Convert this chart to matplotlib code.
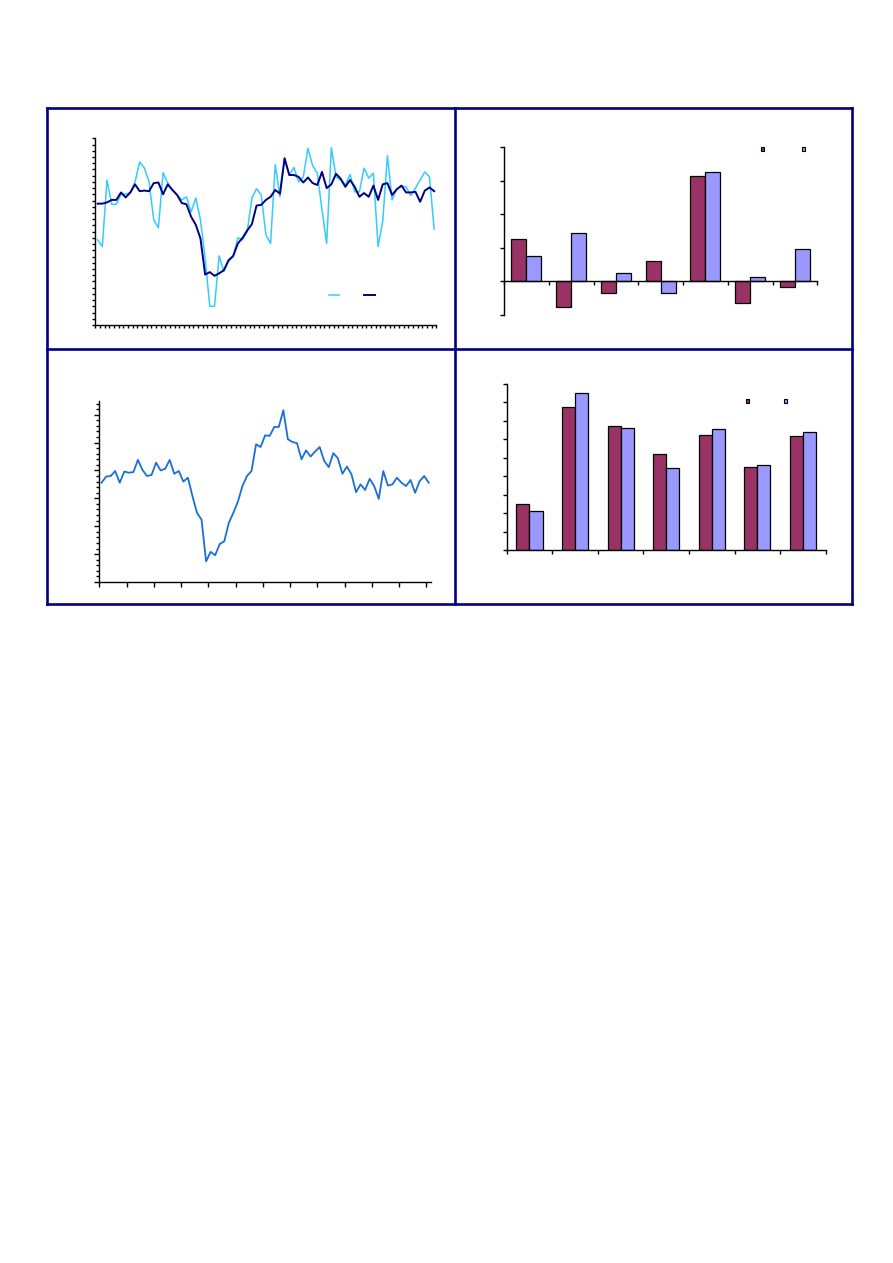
import numpy as np
import matplotlib
matplotlib.use('Agg')
import matplotlib.pyplot as plt
from matplotlib.lines import Line2D
from matplotlib.patches import Patch

# 左上：两条月度曲线（浅蓝、深蓝）
light_line = [13.7, 12.6, 23.3, 19.4, 19.4, 21.0, 21.0, 21.3, 23.0, 26.2,
              25.2, 23.0, 16.9, 15.6, 24.5, 22.8, 21.7, 20.9, 20.1, 20.6,
              18.2, 20.4, 16.9, 10.7, 3.0, 3.0, 11.1, 8.6, 10.2, 11.0,
              14.0, 13.7, 15.0, 20.4, 21.9, 20.9, 14.5, 13.1, 25.8, 20.6,
              26.7, 24.1, 25.3, 23.0, 23.8, 28.4, 25.6, 24.4, 18.5, 13.1,
              28.5, 23.8, 23.3, 22.5, 24.2, 21.4, 21.4, 25.2, 23.6, 24.4,
              12.6, 16.7, 27.2, 20.1, 21.9, 22.3, 22.2, 20.8, 22.0, 23.3,
              24.6, 23.8, 15.4]
dark_line = [19.5, 19.5, 19.7, 20.1, 20.1, 21.3, 20.5, 21.3, 22.6, 21.5,
             21.6, 21.5, 22.8, 22.9, 21.0, 22.6, 21.7, 20.9, 19.6, 19.4,
             17.4, 16.1, 13.9, 8.1, 8.5, 7.9, 8.3, 8.8, 10.4, 11.1,
             13.1, 14.0, 15.2, 16.2, 19.2, 19.3, 20.1, 20.6, 21.7, 21.1,
             26.8, 24.1, 24.1, 23.8, 22.9, 23.7, 22.8, 22.5, 24.6, 22.0,
             22.6, 24.3, 23.5, 22.2, 23.3, 22.2, 20.6, 21.2, 20.6, 22.4,
             20.1, 22.6, 22.8, 20.9, 21.8, 22.4, 21.3, 21.3, 21.4, 19.8,
             21.6, 22.1, 21.5]

# 左下：单条曲线
single_line = [17.8, 18.9, 19.0, 19.9, 17.8, 19.8, 19.6, 19.7, 21.9, 20.1,
               19.0, 19.2, 21.4, 20.0, 20.3, 21.9, 19.4, 19.9, 18.0, 18.7,
               15.4, 12.4, 11.2, 3.7, 5.4, 4.8, 6.8, 7.3, 10.6, 12.4,
               14.4, 17.2, 19.0, 19.9, 24.7, 24.2, 26.3, 26.2, 27.8, 27.8,
               30.8, 25.6, 25.1, 24.9, 22.0, 23.6, 22.5, 23.4, 24.2, 21.7,
               20.6, 23.1, 22.2, 19.4, 20.7, 19.3, 16.1, 17.5, 16.5, 18.5,
               17.2, 14.9, 19.9, 17.3, 17.5, 18.7, 17.8, 17.2, 18.3, 16.0,
               18.1, 19.0, 17.8]

# 右上：七组柱状（可为负）
bar_top_a = [1.28, -0.75, -0.34, 0.60, 3.13, -0.63, -0.18]
bar_top_b = [0.75, 1.44, 0.24, -0.34, 3.25, 0.12, 0.98]

# 右下：七组柱状
bar_bot_a = [2.49, 7.74, 6.71, 5.19, 6.22, 4.49, 6.17]
bar_bot_b = [2.11, 8.50, 6.60, 4.44, 6.57, 4.60, 6.39]

C_MAROON = '#993366'
C_LAV = '#9999ff'
C_CYAN = '#33ccff'
C_NAVY = '#000080'
C_BLUE = '#1a6fd6'
C_FRAME = '#000080'

W, H = 893, 1263
fig = plt.figure(figsize=(W / 100, H / 100), dpi=100)


def px_axes(left, top, right, bottom):
    # 用像素坐标定位子图
    return fig.add_axes([left / W, 1 - bottom / H, (right - left) / W, (bottom - top) / H])


def plain(ax):
    for s in ['top', 'right']:
        ax.spines[s].set_visible(False)
    for s in ['left', 'bottom']:
        ax.spines[s].set_linewidth(1.0)
        ax.spines[s].set_color('black')
    ax.tick_params(which='both', labelleft=False, labelbottom=False,
                   direction='out', width=1.0, color='black')
    ax.set_facecolor('none')


# 外框和分割线
def frame_line(x0, y0, x1, y1):
    fig.add_artist(Line2D([x0 / W, x1 / W], [1 - y0 / H, 1 - y1 / H],
                          transform=fig.transFigure, color=C_FRAME, lw=1.9,
                          solid_capstyle='projecting'))


frame_line(47, 108, 852, 108)
frame_line(47, 604, 852, 604)
frame_line(47, 108, 47, 604)
frame_line(852, 108, 852, 604)
frame_line(454.5, 108, 454.5, 604)
frame_line(47, 348.5, 852, 348.5)

# ---- 左上 ----
ax1 = px_axes(95.3, 138.3, 436.5, 325)
plain(ax1)
n1 = len(light_line)
x1 = np.arange(n1)
ax1.plot(x1, light_line, color=C_CYAN, lw=1.1)
ax1.plot(x1, dark_line, color=C_NAVY, lw=1.4)
ax1.set_xlim(-0.5, n1 - 0.5)
ax1.set_ylim(0, 30)
ax1.set_xticks(np.arange(-0.5, n1, 1))
ax1.set_yticks(np.arange(0, 31, 1))
ax1.tick_params(length=2.5)
ax1.legend([Line2D([], [], color=C_CYAN, lw=1.1), Line2D([], [], color=C_NAVY, lw=1.4)],
           ['', ''], ncol=2, frameon=False, fontsize=6, loc='center left',
           bbox_to_anchor=(0.684, 0.159), borderpad=0, borderaxespad=0,
           handlelength=1.25, handletextpad=0.8, columnspacing=2.2)

# ---- 右上 ----
ax2 = px_axes(504, 147.3, 817.3, 315)
plain(ax2)
cats = np.arange(len(bar_top_a))
bw = 1 / 3
ax2.bar(cats + 0.5 - bw / 2, bar_top_a, width=bw, color=C_MAROON, edgecolor='black', lw=0.9)
ax2.bar(cats + 0.5 + bw / 2, bar_top_b, width=bw, color=C_LAV, edgecolor='black', lw=0.9)
ax2.set_xlim(0, len(cats))
ax2.set_ylim(-1, 4)
ax2.spines['bottom'].set_position(('data', 0))
ax2.set_xticks(np.arange(0, len(cats) + 1))
ax2.set_yticks(np.arange(-1, 5, 1))
ax2.tick_params(length=3)
ax2.legend([Patch(facecolor=C_MAROON, edgecolor='black', lw=0.8),
            Patch(facecolor=C_LAV, edgecolor='black', lw=0.8)],
           ['', ''], ncol=2, frameon=False, fontsize=6, loc='center left',
           bbox_to_anchor=(0.82, 0.985), borderpad=0, borderaxespad=0,
           handlelength=0.4, handleheight=0.4, handletextpad=0.5, columnspacing=4.0)

# ---- 左下 ----
ax3 = px_axes(99.3, 401.3, 431, 582)
plain(ax3)
n3 = len(single_line)
ax3.plot(np.arange(n3), single_line, color=C_BLUE, lw=1.3)
ax3.set_xlim(-0.5, n3 - 0.5)
ax3.set_ylim(0, 32.4)
ax3.set_xticks(np.arange(-0.5, n3, 6))
ax3.set_yticks(np.arange(0, 31, 5))
ax3.set_yticks(np.arange(0, 33, 1), minor=True)
ax3.tick_params(which='major', length=3.5)
ax3.tick_params(which='minor', length=2)
ax3.tick_params(axis='x', which='minor', length=0)

# ---- 右下 ----
ax4 = px_axes(506.7, 384, 825.7, 550.3)
plain(ax4)
cats4 = np.arange(len(bar_bot_a))
bw4 = 1 / 3.5
ax4.bar(cats4 + 0.5 - bw4 / 2, bar_bot_a, width=bw4, color=C_MAROON, edgecolor='black', lw=0.9)
ax4.bar(cats4 + 0.5 + bw4 / 2, bar_bot_b, width=bw4, color=C_LAV, edgecolor='black', lw=0.9)
ax4.set_xlim(0, len(cats4))
ax4.set_ylim(0, 9)
ax4.set_xticks(np.arange(0, len(cats4) + 1))
ax4.set_yticks(np.arange(0, 10, 1))
ax4.tick_params(length=3)
ax4.legend([Patch(facecolor=C_MAROON, edgecolor='black', lw=0.8),
            Patch(facecolor=C_LAV, edgecolor='black', lw=0.8)],
           ['', ''], ncol=2, frameon=False, fontsize=6, loc='center left',
           bbox_to_anchor=(0.749, 0.896), borderpad=0, borderaxespad=0,
           handlelength=0.35, handleheight=0.4, handletextpad=0.5, columnspacing=3.8)

fig.savefig('out.png', dpi=100)
